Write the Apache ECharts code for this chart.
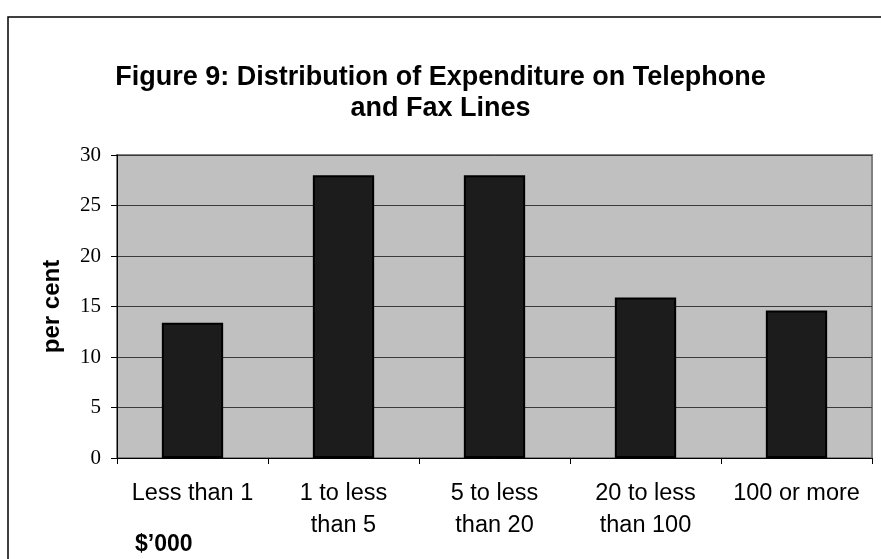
<!DOCTYPE html>
<html>
<head>
<meta charset="utf-8">
<script src="https://cdn.jsdelivr.net/npm/echarts@6/dist/echarts.min.js"></script>
<style>
html,body{margin:0;padding:0;background:#fff;}
#chart{width:881px;height:559px;}
</style>
</head>
<body>
<div id="chart"></div>
<script>
var titleText = 'Figure 9: Distribution of Expenditure on Telephone\nand Fax Lines';
var categories = ['Less than 1', '1 to less\nthan 5', '5 to less\nthan 20', '20 to less\nthan 100', '100 or more'];
var perCent = [13.4, 28, 28, 15.9, 14.6];
var yTicks = [0, 5, 10, 15, 20, 25, 30];
var yAxisName = 'per cent';
var unitNote = '$\u2019000';

var chart = echarts.init(document.getElementById('chart'), null, {renderer: 'canvas'});
chart.setOption({
  animation: false,
  backgroundColor: '#ffffff',
  title: {
    text: titleText,
    left: 'center',
    top: 57,
    textStyle: {fontFamily: 'Liberation Sans', fontWeight: 'bold', fontSize: 27, lineHeight: 31, color: '#000'}
  },
  graphic: [
    {type: 'rect', shape: {x: 8, y: 17, width: 900, height: 600}, style: {fill: 'none', stroke: '#000', lineWidth: 1.5}, silent: true, z: -10},
    {type: 'text', left: 135, top: 533, style: {text: unitNote, font: 'bold 23px "Liberation Sans"', fill: '#000'}}
  ],
  grid: {left: 117, right: 9, top: 155, bottom: 101, show: true, backgroundColor: '#c0c0c0', borderColor: '#808080', borderWidth: 2},
  xAxis: {
    type: 'category',
    data: categories,
    axisLine: {lineStyle: {color: '#000', width: 1}},
    axisTick: {show: true, alignWithLabel: false, length: 6, lineStyle: {color: '#000'}},
    axisLabel: {margin: 20, fontFamily: 'Liberation Sans', fontSize: 23.5, lineHeight: 32, color: '#000', interval: 0}
  },
  yAxis: {
    type: 'value',
    min: yTicks[0],
    max: yTicks[yTicks.length - 1],
    interval: 5,
    name: yAxisName,
    nameLocation: 'middle',
    nameRotate: 90,
    nameGap: 53,
    nameTextStyle: {fontFamily: 'Liberation Sans', fontWeight: 'bold', fontSize: 24, color: '#000'},
    axisLine: {show: true, lineStyle: {color: '#000', width: 1}},
    axisTick: {show: true, length: 6, lineStyle: {color: '#000'}},
    axisLabel: {margin: 16, fontFamily: 'Liberation Serif', fontSize: 21, color: '#000'},
    splitLine: {show: true, lineStyle: {color: '#3a3a3a', width: 1}}
  },
  series: [{
    type: 'bar',
    data: perCent,
    barWidth: '40.6%',
    itemStyle: {color: '#1c1c1c', borderColor: '#000', borderWidth: 2}
  }]
});
</script>
</body>
</html>
